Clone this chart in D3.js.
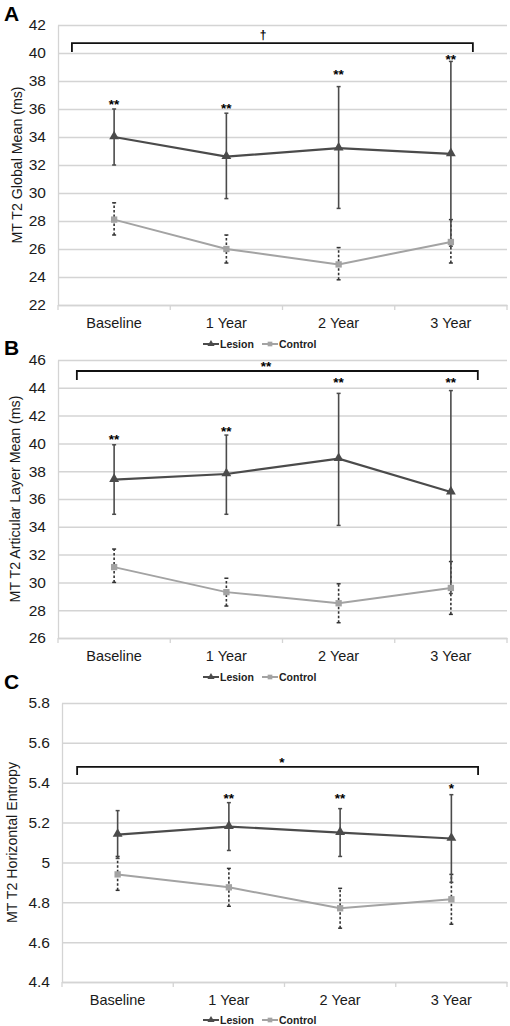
<!DOCTYPE html>
<html>
<head>
<meta charset="utf-8">
<script src="https://cdn.jsdelivr.net/npm/d3@7"></script>
<style>
  html, body { margin: 0; padding: 0; background: #fff; }
  svg { display: block; font-family: "Liberation Sans", Arial, sans-serif; }
</style>
</head>
<body>
<svg id="chart" width="510" height="1026"></svg>
<script>
// ---------------- DATA ----------------
const categories = ["Baseline", "1 Year", "2 Year", "3 Year"];
const seriesNames = ["Lesion", "Control"];

// Panel A: MT T2 Global Mean (ms)
const aLesionMean = [34.0, 32.6, 33.2, 32.8];
const aLesionLow  = [32.0, 29.6, 28.9, 26.2];
const aLesionHigh = [36.0, 35.7, 37.6, 39.4];
const aControlMean = [28.1, 26.0, 24.9, 26.5];
const aControlLow  = [27.0, 25.0, 23.8, 25.0];
const aControlHigh = [29.3, 27.0, 26.1, 28.1];
const aStars = ["**", "**", "**", "**"];
const aStarLevel = [36.6, 36.3, 38.7, 39.8];
const aTicks = [22, 24, 26, 28, 30, 32, 34, 36, 38, 40, 42];

// Panel B: MT T2 Articular Layer Mean (ms)
const bLesionMean = [37.4, 37.8, 38.9, 36.5];
const bLesionLow  = [34.9, 34.9, 34.1, 29.2];
const bLesionHigh = [39.9, 40.6, 43.6, 43.8];
const bControlMean = [31.1, 29.3, 28.5, 29.6];
const bControlLow  = [30.0, 28.3, 27.1, 27.7];
const bControlHigh = [32.4, 30.3, 29.9, 31.5];
const bStars = ["**", "**", "**", "**"];
const bStarLevel = [40.5, 41.1, 44.6, 44.6];
const bTicks = [26, 28, 30, 32, 34, 36, 38, 40, 42, 44, 46];

// Panel C: MT T2 Horizontal Entropy
const cLesionMean = [5.14, 5.18, 5.15, 5.12];
const cLesionLow  = [5.02, 5.06, 5.03, 4.90];
const cLesionHigh = [5.26, 5.30, 5.27, 5.34];
const cControlMean = [4.94, 4.875, 4.77, 4.815];
const cControlLow  = [4.86, 4.78, 4.67, 4.69];
const cControlHigh = [5.03, 4.97, 4.87, 4.94];
const cStars = ["", "**", "**", "*"];
const cStarLevel = [5.34, 5.34, 5.34, 5.39];
const cTicks = [4.4, 4.6, 4.8, 5, 5.2, 5.4, 5.6, 5.8];

// Overall group brackets (value level of bar, level of feet, label)
const bracketLabels = ["\u2020", "**", "*"];
const bracketLevels = [[40.71, 40.07], [45.21, 44.56], [5.479, 5.439]];

const panelLetters = ["A", "B", "C"];
const yTitles = ["MT T2 Global Mean (ms)", "MT T2 Articular Layer Mean (ms)", "MT T2 Horizontal Entropy"];

// ---------------- LAYOUT ----------------
const panels = [
  { letter: panelLetters[0], title: yTitles[0], domain: [22, 42], ticks: aTicks, fmt: d3.format("d"),
    top: 25, bottom: 305, left: 58, right: 507, letterY: 21, titleX: 22, legendY: 344,
    lm: aLesionMean, ll: aLesionLow, lh: aLesionHigh, cm: aControlMean, cl: aControlLow, ch: aControlHigh,
    stars: aStars, starLevel: aStarLevel, bracket: bracketLevels[0], bLabel: bracketLabels[0],
    bx: [0.031, 0.924], bLabelX: 263 },
  { letter: panelLetters[1], title: yTitles[1], domain: [26, 46], ticks: bTicks, fmt: d3.format("d"),
    top: 360, bottom: 638, left: 58, right: 507, letterY: 355, titleX: 20, legendY: 677,
    lm: bLesionMean, ll: bLesionLow, lh: bLesionHigh, cm: bControlMean, cl: bControlLow, ch: bControlHigh,
    stars: bStars, starLevel: bStarLevel, bracket: bracketLevels[1], bLabel: bracketLabels[1],
    bx: [0.042, 0.935], bLabelX: 266 },
  { letter: panelLetters[2], title: yTitles[2], domain: [4.4, 5.8], ticks: cTicks, fmt: d => d3.format("~g")(d),
    top: 703, bottom: 982, left: 62, right: 507, letterY: 689, titleX: 17, legendY: 1020,
    lm: cLesionMean, ll: cLesionLow, lh: cLesionHigh, cm: cControlMean, cl: cControlLow, ch: cControlHigh,
    stars: cStars, starLevel: cStarLevel, bracket: bracketLevels[2], bLabel: bracketLabels[2],
    bx: [0.034, 0.935], bLabelX: 282 }
];

const svg = d3.select("#chart");
const lesionColor = "#4b4b4b";
const controlColor = "#a3a3a3";
const gridColor = "#d4d4d4";
const textColor = "#1a1a1a";

panels.forEach(p => {
  const g = svg.append("g");
  const y = d3.scaleLinear().domain(p.domain).range([p.bottom, p.top]);
  const x = d3.scaleBand().domain(categories).range([p.left, p.right]).padding(0);
  const cx = c => x(c) + x.bandwidth() / 2;

  // gridlines + y tick labels
  const yAxis = g.append("g")
    .attr("transform", `translate(${p.left},0)`)
    .call(d3.axisLeft(y).tickValues(p.ticks).tickFormat(p.fmt)
      .tickSizeInner(-(p.right - p.left)).tickSizeOuter(0).tickPadding(12));
  yAxis.select(".domain").attr("stroke", gridColor).attr("stroke-width", 1.3);
  yAxis.selectAll(".tick line").attr("stroke", gridColor).attr("stroke-width", 1.5);
  yAxis.selectAll(".tick text").attr("fill", textColor).style("font-size", "15.5px")
    .style("font-family", "'Liberation Sans', Arial, sans-serif");

  // x axis
  const xAxis = g.append("g")
    .attr("transform", `translate(0,${p.bottom})`)
    .call(d3.axisBottom(x).tickSize(0).tickPadding(13));
  xAxis.select(".domain").attr("stroke", gridColor).attr("stroke-width", 1.5);
  xAxis.selectAll(".tick text").attr("fill", textColor).style("font-size", "14.5px")
    .style("font-family", "'Liberation Sans', Arial, sans-serif");
  // boundary ticks
  const edges = categories.map(c => x(c)).concat([x(categories[categories.length - 1]) + x.bandwidth()]);
  g.selectAll(".edgeTick").data(edges).enter().append("line")
    .attr("x1", d => d).attr("x2", d => d)
    .attr("y1", p.bottom).attr("y2", p.bottom + 5)
    .attr("stroke", gridColor).attr("stroke-width", 1.3);

  // y title
  g.append("text")
    .attr("transform", `translate(${p.titleX},${(p.top + p.bottom) / 2}) rotate(-90)`)
    .attr("text-anchor", "middle")
    .attr("fill", textColor)
    .style("font-size", "14.2px")
    .text(p.title);

  // panel letter
  g.append("text")
    .attr("x", 4).attr("y", p.letterY)
    .attr("fill", "#000")
    .style("font-size", "21px").style("font-weight", "bold")
    .text(p.letter);

  const lineGen = d3.line().x(d => cx(d.c)).y(d => y(d.v));
  const lesion = categories.map((c, i) => ({ c, v: p.lm[i], lo: p.ll[i], hi: p.lh[i] }));
  const control = categories.map((c, i) => ({ c, v: p.cm[i], lo: p.cl[i], hi: p.ch[i] }));

  // lines
  g.append("path").datum(control).attr("d", lineGen)
    .attr("fill", "none").attr("stroke", controlColor).attr("stroke-width", 2);
  g.append("path").datum(lesion).attr("d", lineGen)
    .attr("fill", "none").attr("stroke", lesionColor).attr("stroke-width", 2.2);

  // control error bars (dotted)
  control.forEach(d => {
    g.append("line").attr("x1", cx(d.c)).attr("x2", cx(d.c))
      .attr("y1", y(d.lo)).attr("y2", y(d.hi))
      .attr("stroke", "#333").attr("stroke-width", 1.6).attr("stroke-dasharray", "2.5,2");
    [d.lo, d.hi].forEach(v => g.append("line")
      .attr("x1", cx(d.c) - 2).attr("x2", cx(d.c) + 2)
      .attr("y1", y(v)).attr("y2", y(v))
      .attr("stroke", "#333").attr("stroke-width", 1.5));
  });
  // lesion error bars (solid)
  lesion.forEach(d => {
    g.append("line").attr("x1", cx(d.c)).attr("x2", cx(d.c))
      .attr("y1", y(d.lo)).attr("y2", y(d.hi))
      .attr("stroke", lesionColor).attr("stroke-width", 1.6);
    [d.lo, d.hi].forEach(v => g.append("line")
      .attr("x1", cx(d.c) - 2).attr("x2", cx(d.c) + 2)
      .attr("y1", y(v)).attr("y2", y(v))
      .attr("stroke", lesionColor).attr("stroke-width", 1.5));
  });

  // markers
  const tri = d3.symbol().type(d3.symbolTriangle).size(42);
  const sq = d3.symbol().type(d3.symbolSquare).size(40);
  g.selectAll(".cm").data(control).enter().append("path")
    .attr("d", sq).attr("transform", d => `translate(${cx(d.c)},${y(d.v)})`)
    .attr("fill", controlColor);
  g.selectAll(".lm").data(lesion).enter().append("path")
    .attr("d", tri).attr("transform", d => `translate(${cx(d.c)},${y(d.v) - 0.5})`)
    .attr("fill", lesionColor);

  // asterisks
  categories.forEach((c, i) => {
    if (!p.stars[i]) return;
    g.append("text")
      .attr("x", cx(c)).attr("y", y(p.starLevel[i]) + 8)
      .attr("text-anchor", "middle")
      .attr("fill", "#000")
      .style("font-size", "13.5px").style("font-weight", "bold")
      .text(p.stars[i]);
  });

  // bracket
  const w = p.right - p.left;
  const bx1 = p.left + p.bx[0] * w, bx2 = p.left + p.bx[1] * w;
  const by = y(p.bracket[0]), byEnd = y(p.bracket[1]);
  g.append("path")
    .attr("d", `M${bx1},${byEnd}V${by}H${bx2}V${byEnd}`)
    .attr("fill", "none").attr("stroke", "#111").attr("stroke-width", 1.8);
  g.append("text")
    .attr("x", p.bLabelX).attr("y", p.bLabel === "\u2020" ? by - 4 : by + 0.5)
    .attr("text-anchor", "middle").attr("fill", "#000")
    .style("font-size", p.bLabel === "\u2020" ? "12px" : "13.5px").style("font-weight", "bold")
    .text(p.bLabel);

  // legend
  const lg = g.append("g").attr("transform", `translate(0,${p.legendY})`);
  const items = [
    { name: seriesNames[0], color: lesionColor, type: d3.symbolTriangle, x0: 203 },
    { name: seriesNames[1], color: controlColor, type: d3.symbolSquare, x0: 262 }
  ];
  items.forEach(it => {
    lg.append("line").attr("x1", it.x0).attr("x2", it.x0 + 16).attr("y1", 0).attr("y2", 0)
      .attr("stroke", it.color).attr("stroke-width", 2);
    lg.append("path").attr("d", d3.symbol().type(it.type).size(22))
      .attr("transform", `translate(${it.x0 + 8},0)`).attr("fill", it.color);
    lg.append("text").attr("x", it.x0 + 17).attr("y", 4)
      .attr("fill", "#222").style("font-size", "10.5px").style("font-weight", "bold")
      .text(it.name);
  });
});
</script>
</body>
</html>
